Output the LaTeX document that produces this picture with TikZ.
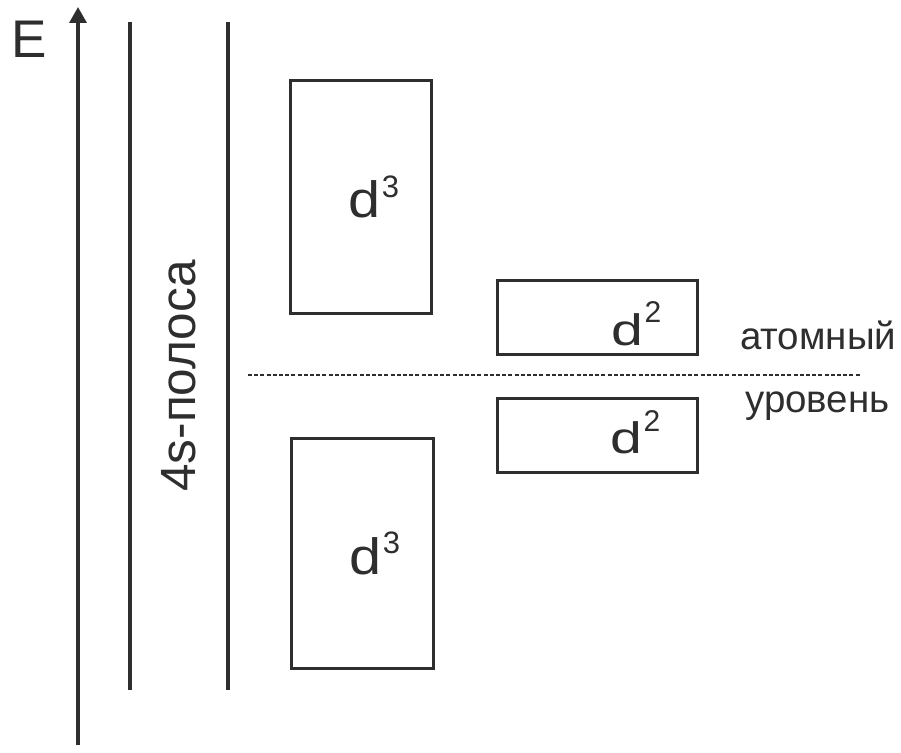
\documentclass[tikz,border=0pt]{standalone}
\usepackage{fontspec}
\setmainfont{Liberation Sans}
\usetikzlibrary{arrows.meta}
\newcommand{\fsz}[1]{\fontsize{#1}{#1}\selectfont}
% sub-band label: letter d widened, with a raised index
\newcommand{\dlabel}[5]{\scalebox{#2}[1]{\fsz{#1}d}\hspace{1.5pt}\raisebox{#4}{\fsz{#3}#5}}
\begin{document}
\begin{tikzpicture}[x=1pt,y=-1pt,
  ink/.style={draw=black!82},
  axisline/.style={ink,line width=3.4pt},
  band/.style={ink,line width=3.4pt},
  levelbox/.style={ink,line width=3pt,minimum width=#1,inner sep=0pt,outer sep=0pt},
  lbl/.style={text=black!82,inner sep=0pt,anchor=base west},
  side/.style={font=\fsz{38.5},text=black!82,inner sep=0pt,anchor=base west}]
\useasboundingbox (0,0) rectangle (901,752);
% energy axis
\coordinate (ebot) at (78,745);
\coordinate (etop) at (78,7);
\draw[axisline,-{Triangle[length=16pt,width=17pt]}] (ebot) -- (etop);
\node[lbl,font=\fsz{53}] (elab) at (11,57) {E};
% 4s band
\coordinate (b1t) at (130,22); \coordinate (b1b) at (130,690);
\coordinate (b2t) at (228,22); \coordinate (b2b) at (228,690);
\draw[band] (b1t) -- (b1b);
\draw[band] (b2t) -- (b2b);
\node[rotate=90,font=\fsz{49.5},text=black!82,inner sep=0pt,anchor=base] (sband) at (195,376) {4s-полоса};
% d sub-bands
\node[draw,levelbox=141pt,minimum height=233pt] (d3u) at (360.5,196.5) {};
\node[draw,levelbox=142pt,minimum height=230pt] (d3l) at (362,553) {};
\node[draw,levelbox=200pt,minimum height=74pt] (d2u) at (597,317) {};
\node[draw,levelbox=200pt,minimum height=74pt] (d2l) at (597,435) {};
\node[lbl] (t3u) at (348,217) {\dlabel{51}{1.13}{31}{20pt}{3}};
\node[lbl] (t3l) at (349,574) {\dlabel{51}{1.13}{31}{21pt}{3}};
\node[lbl] (t2u) at (611,345) {\dlabel{44}{1.3}{30}{23pt}{2}};
\node[lbl] (t2l) at (610,453) {\dlabel{44}{1.3}{30}{22pt}{2}};
% atomic level
\coordinate (lvl1) at (248,375);
\coordinate (lvl2) at (860,375);
\draw[ink,line width=2.2pt,dash pattern=on 4pt off 2.2pt] (lvl1) -- (lvl2);
\node[side] (at) at (740,349) {атомный};
\node[side] (ur) at (745,412) {уровень};
\end{tikzpicture}
\end{document}
